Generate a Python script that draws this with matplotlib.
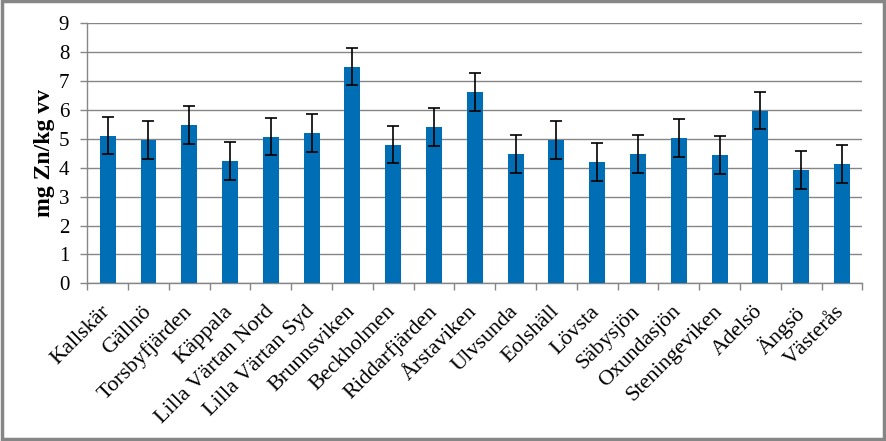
import matplotlib
matplotlib.use("Agg")
import matplotlib.pyplot as plt
from matplotlib.patches import Rectangle
import numpy as np

categories = ["Kallskär", "Gällnö", "Torsbyfjärden", "Käppala", "Lilla Värtan Nord",
              "Lilla Värtan Syd", "Brunnsviken", "Beckholmen", "Riddarfjärden", "Årstaviken",
              "Ulvsunda", "Eolshäll", "Lövsta", "Säbysjön", "Oxundasjön", "Steningeviken",
              "Adelsö", "Ängsö", "Västerås"]
values = [5.10, 4.96, 5.48, 4.23, 5.07, 5.20, 7.49, 4.79, 5.41, 6.62,
          4.48, 4.96, 4.20, 4.48, 5.03, 4.44, 5.97, 3.92, 4.13]
errors = [0.64, 0.65, 0.65, 0.65, 0.64, 0.65, 0.64, 0.64, 0.66, 0.65,
          0.65, 0.65, 0.65, 0.66, 0.65, 0.65, 0.64, 0.65, 0.65]
y_ticks = [0, 1, 2, 3, 4, 5, 6, 7, 8, 9]
y_label = "mg Zn/kg vv"

plt.rcParams['font.family'] = ['Liberation Serif', 'DejaVu Serif']

fig = plt.figure(figsize=(8.86, 4.41), dpi=100)
ax = fig.add_axes([0.0985, 0.3576, 0.8748, 0.5896])

x = np.arange(len(categories))
grid_col = "#868686"
ax.bar(x, values, width=0.39, color="#006EB4", zorder=3)
ax.errorbar(x, values, yerr=errors, fmt="none", ecolor="black", elinewidth=1.2,
            capsize=4, capthick=1.2, zorder=4)

ax.set_xlim(-0.5, len(categories) - 0.5)
ax.set_ylim(0, 9)
ax.set_yticks(y_ticks)
ax.set_yticklabels([str(t) for t in y_ticks], fontsize=15)
ax.yaxis.grid(True, color=grid_col, linewidth=1.0, zorder=0)
ax.set_axisbelow(True)

# tick marks at category boundaries
ax.set_xticks(np.arange(-0.5, len(categories)), minor=False)
ax.set_xticklabels([])
ax.tick_params(axis='x', length=5, width=1, color=grid_col, direction='out')
ax.tick_params(axis='y', length=5, width=1, color=grid_col, direction='out', pad=8)

for s in ["top", "right"]:
    ax.spines[s].set_visible(False)
for s in ["left", "bottom"]:
    ax.spines[s].set_color(grid_col)
    ax.spines[s].set_linewidth(1.0)

for xi, lab in zip(x, categories):
    ax.annotate(lab, xy=(xi, 0), xycoords='data', xytext=(-5, -13.5), textcoords='offset points',
                rotation=45, ha='right', va='top', rotation_mode='anchor', fontsize=16)

ax.set_ylabel(y_label, fontsize=17, fontweight='bold', labelpad=3)

fig.patches.append(Rectangle((0.002, 0.004), 0.996, 0.993, transform=fig.transFigure,
                             fill=False, edgecolor="#868686", linewidth=2.5))

fig.savefig("out.png", dpi=100)
